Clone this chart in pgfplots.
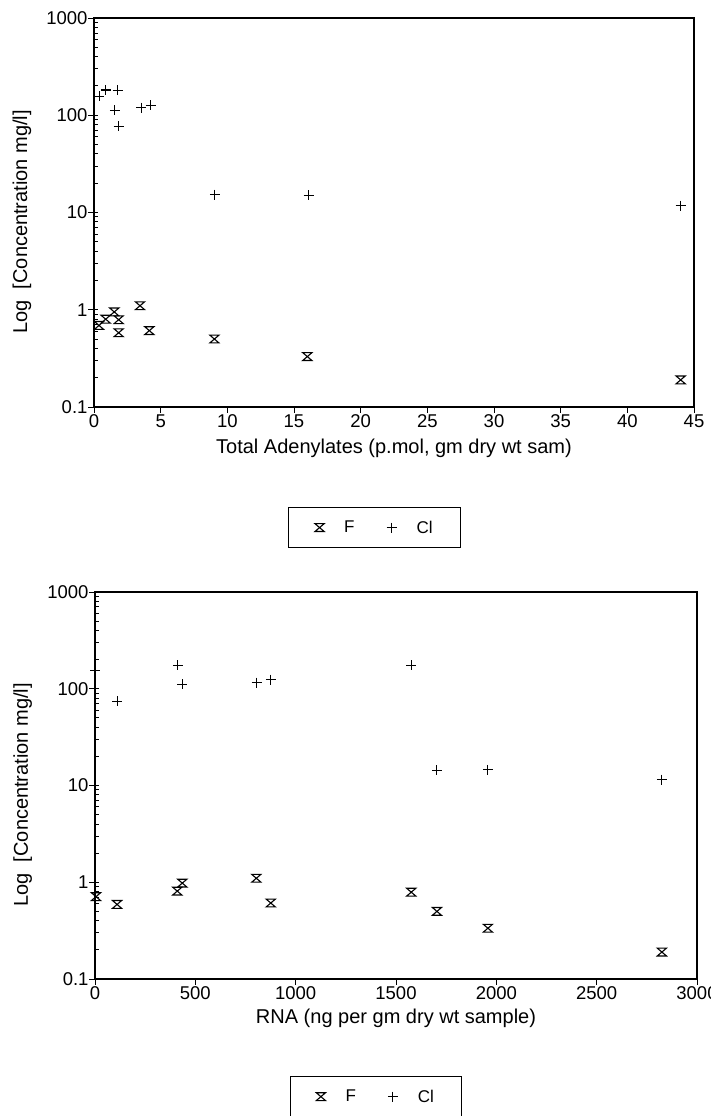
\documentclass[border=0pt]{standalone}
\usepackage{fontspec}
\setmainfont{Liberation Sans}
\usepackage{pgfplots}
\pgfplotsset{compat=1.18}

% hourglass mark used for the F series
\pgfdeclareplotmark{hourglass}{%
  \pgfpathmoveto{\pgfqpoint{-\pgfplotmarksize}{0.85\pgfplotmarksize}}%
  \pgfpathlineto{\pgfqpoint{\pgfplotmarksize}{0.85\pgfplotmarksize}}%
  \pgfpathlineto{\pgfqpoint{-\pgfplotmarksize}{-0.85\pgfplotmarksize}}%
  \pgfpathlineto{\pgfqpoint{\pgfplotmarksize}{-0.85\pgfplotmarksize}}%
  \pgfpathclose
  \pgfusepathqstroke}

\pgfplotsset{
  conc/.style={
    scale only axis, ymin=0.1, ymax=1000,
    ytick={0.1,1,10,100,1000}, yticklabels={0.1,1,10,100,1000},
    tick align=inside, major tick length=-6pt, minor tick length=4pt,
    xtick pos=left, ytick pos=left,
    axis line style={line width=1.3pt},
    tick style={line width=1pt, black},
    ticklabel style={font=\fontsize{18.5}{20}\selectfont},
    yticklabel style={xshift=-3pt},
    ylabel={Log\ \ [Concentration mg/l]},
    label style={font=\fontsize{20}{22}\selectfont},
    ylabel style={at={(axis description cs:-0.12,0.476)}, anchor=center},
    legend columns=2,
    legend style={draw=black, line width=1pt, anchor=center,
      font=\fontsize{17}{19}\selectfont, inner xsep=26pt, inner ysep=11pt,
      /tikz/every odd column/.append style={column sep=18pt},
      /tikz/every even column/.append style={column sep=30pt}},
    xticklabel style={yshift=-4pt, /pgf/number format/assume math mode=true,
      /pgf/number format/1000 sep={}},
  },
  fser/.style={only marks, mark=hourglass, mark size=4.6pt, line width=1.1pt, black},
  clser/.style={only marks, mark=+, mark size=5pt, line width=1.1pt, black},
}

\begin{document}
\begin{tikzpicture}
\path[use as bounding box] (0,0) rectangle (710pt,-1116pt);

\begin{axis}[conc, ymode=log,
    at={(94pt,-407pt)}, anchor=south west,
    width=600pt, height=389pt,
    xmin=0, xmax=45, xtick={0,5,...,45},
    xlabel={Total Adenylates (p.mol, gm dry wt sam)},
    xlabel style={at={(axis description cs:0.5,0)}, anchor=center, yshift=-41pt},
    legend style={at={(axis description cs:0.468,-0.31)}},
]
\addplot[fser] coordinates {
    (0.375,0.69) (0.875,0.80) (1.52,0.95) (1.85,0.79) (1.85,0.58)
    (3.45,1.10) (4.15,0.61) (9.03,0.50) (16.0,0.33) (44.0,0.19)
};
\addlegendentry{F}
\addplot[clser] coordinates {
    (0.38,156) (0.89,182) (1.77,180) (1.57,112) (1.85,77)
    (3.54,120) (4.25,126) (9.06,15.3) (16.1,15) (44.0,11.8)
};
\addlegendentry{Cl}
\end{axis}

\begin{axis}[conc, ymode=log,
    at={(95pt,-979pt)}, anchor=south west,
    width=602pt, height=387pt,
    xmin=0, xmax=3000, xtick={0,500,...,3000},
    xlabel={RNA (ng per gm dry wt sample)},
    xlabel style={at={(axis description cs:0.5,0)}, anchor=center, yshift=-39pt},
    legend style={at={(axis description cs:0.467,-0.304)}},
]
\addplot[fser] coordinates {
    (5,0.71) (110,0.59) (410,0.81) (435,0.98) (804,1.10)
    (876,0.61) (1576,0.79) (1704,0.50) (1958,0.335) (2825,0.19)
};
\addlegendentry{F}
\addplot[clser] coordinates {
    (0,155) (110,74.5) (413,174) (435,111) (806,116)
    (876,124) (1576,174) (1704,14.3) (1958,14.5) (2825,11.5)
};
\addlegendentry{Cl}
\end{axis}
\end{tikzpicture}
\end{document}
